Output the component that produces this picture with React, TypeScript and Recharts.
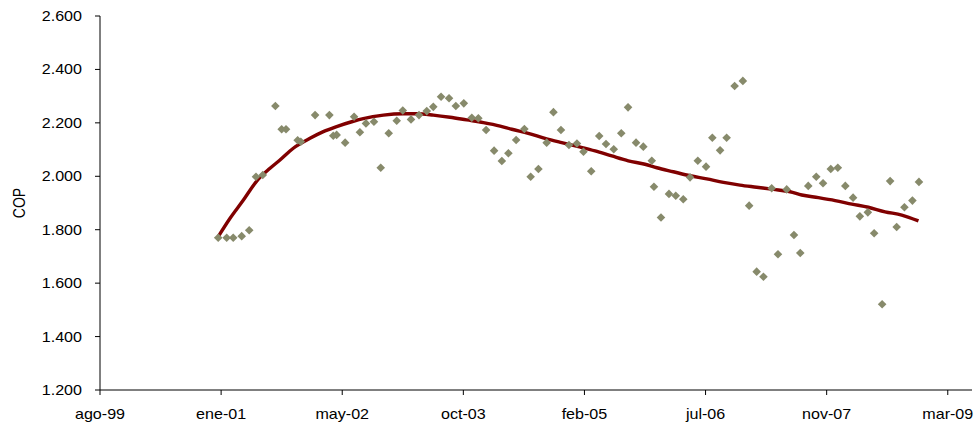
import React from 'react';
import { ComposedChart, Scatter, Line, XAxis, YAxis } from 'recharts';

// Dates are Excel serial day numbers (1 = 1900-01-01), values are COP per USD
const pointSerials = [
  36888, 36923, 36950, 36985, 37016, 37044, 37072, 37124, 37150, 37168,
  37216, 37229, 37288, 37347, 37363, 37377, 37412, 37449, 37473, 37498,
  37531, 37559, 37592, 37625, 37650, 37684, 37717, 37749, 37776, 37808,
  37841, 37869, 37902, 37935, 37962, 37994, 38027, 38059, 38086, 38118,
  38152, 38178, 38210, 38244, 38272, 38303, 38336, 38369, 38396, 38428,
  38461, 38489, 38521, 38552, 38580, 38613, 38643, 38678, 38687, 38716,
  38749, 38777, 38808, 38836, 38868, 38902, 38928, 38960, 38987, 39020,
  39054, 39080, 39111, 39139, 39173, 39199, 39235, 39265, 39291, 39324,
  39357, 39385, 39417, 39446, 39477, 39509, 39537, 39570, 39596, 39629,
  39662, 39689, 39721, 39754, 39781,
];

const copValues = [
  1770, 1770, 1770, 1776, 1798, 1998, 2005, 2263, 2176, 2176,
  2135, 2129, 2229, 2229, 2152, 2155, 2126, 2223, 2165, 2198,
  2204, 2032, 2161, 2208, 2246, 2213, 2229, 2244, 2260, 2298,
  2292, 2263, 2273, 2219, 2217, 2173, 2096, 2057, 2086, 2136,
  2177, 1998, 2027, 2126, 2240, 2173, 2117, 2123, 2092, 2019,
  2151, 2121, 2101, 2161, 2258, 2126, 2111, 2058, 1961, 1846,
  1934, 1927, 1914, 1996, 2058, 2036, 2144, 2097, 2144, 2338,
  2357, 1890, 1643, 1624, 1955, 1708, 1951, 1780, 1713, 1964,
  1998, 1974, 2027, 2032, 1964, 1920, 1850, 1865, 1787, 1521,
  1982, 1810, 1884, 1909, 1979,
];

const trendSerials = [
  36888, 36937, 36992, 37047, 37102, 37143, 37198, 37267, 37322, 37377,
  37446, 37487, 37570, 37652, 37708, 37776, 37845, 37914, 37983, 38052,
  38100, 38168, 38237, 38306, 38375, 38444, 38513, 38581, 38650, 38699,
  38767, 38836, 38905, 38974, 39042, 39111, 39180, 39249, 39297, 39366,
  39435, 39504, 39572, 39641, 39710, 39779,
];

const trendValues = [
  1774, 1843, 1911, 1982, 2030, 2061, 2105, 2142, 2167, 2186,
  2206, 2216, 2229, 2234, 2234, 2229, 2221, 2211, 2201, 2188,
  2176, 2161, 2142, 2126, 2111, 2095, 2076, 2058, 2045, 2032,
  2017, 2002, 1990, 1977, 1967, 1959, 1951, 1942, 1930, 1920,
  1909, 1896, 1884, 1867, 1855, 1833,
];

const xTicks = [36400, 36900, 37400, 37900, 38400, 38900, 39400, 39900];
const yTicks = [1200, 1400, 1600, 1800, 2000, 2200, 2400, 2600];
const monthNames = ['ene', 'feb', 'mar', 'abr', 'may', 'jun', 'jul', 'ago', 'sep', 'oct', 'nov', 'dic'];
const yAxisTitle = 'COP';

const points = pointSerials.map((x, i) => ({ x, v: copValues[i] }));
const trend = trendSerials.map((x, i) => ({ x, v: trendValues[i] }));

const FONT = '"Liberation Sans", Arial, sans-serif';
const STRETCH = 1.15;

function serialLabel(s: number): string {
  const d = new Date(Date.UTC(1899, 11, 30) + s * 86400000);
  return monthNames[d.getUTCMonth()] + '-' + String(d.getUTCFullYear() % 100).padStart(2, '0');
}

function numLabel(v: number): string {
  return (v / 1000).toFixed(3);
}

const XTick = (props: any) => {
  const { x, y, payload } = props;
  return (
    <g transform={`translate(${x},${y})`}>
      <text textAnchor="middle" dy="0.71em" transform={`scale(${STRETCH},1)`} fontSize={14} fontFamily={FONT} fill="#000">
        {serialLabel(payload.value)}
      </text>
    </g>
  );
};

const YTick = (props: any) => {
  const { x, y, payload } = props;
  return (
    <g transform={`translate(${x},${y})`}>
      <text textAnchor="end" dy="0.355em" transform={`scale(${STRETCH},1)`} fontSize={14} fontFamily={FONT} fill="#000">
        {numLabel(payload.value)}
      </text>
    </g>
  );
};

const Diamond = (props: any) => {
  const { cx, cy } = props;
  if (cx == null || cy == null) return null;
  const r = 4.3;
  return <path d={`M${cx},${cy - r}L${cx + r},${cy}L${cx},${cy + r}L${cx - r},${cy}Z`} fill="#878A6B" />;
};

const YTitle = (props: any) => {
  const vb = props.viewBox || { x: 0, y: 0, width: 100, height: 374 };
  const cx = vb.x + 19;
  const cy = vb.y + vb.height / 2;
  return (
    <g transform={`translate(${cx},${cy}) scale(${STRETCH},1) rotate(-90)`}>
      <text textAnchor="middle" dy="0.355em" fontSize={14} fontFamily={FONT} fill="#000">
        {yAxisTitle}
      </text>
    </g>
  );
};

export default function App() {
  return (
    <div style={{ position: 'absolute', left: 0, top: 0, width: 975, height: 429, background: '#fff' }}>
      <ComposedChart width={975} height={429} margin={{ top: 16, right: 3, bottom: 9, left: 0 }}>
        <XAxis
          type="number"
          dataKey="x"
          domain={[36400, 40000]}
          ticks={xTicks}
          allowDataOverflow
          height={30}
          tickSize={5}
          tickMargin={14}
          axisLine={{ stroke: '#000' }}
          tickLine={{ stroke: '#000' }}
          tick={<XTick />}
        />
        <YAxis
          type="number"
          dataKey="v"
          domain={[1200, 2600]}
          ticks={yTicks}
          allowDataOverflow
          width={100}
          tickSize={5}
          tickMargin={13}
          axisLine={{ stroke: '#000' }}
          tickLine={{ stroke: '#000' }}
          tick={<YTick />}
          label={{ value: yAxisTitle, content: <YTitle /> }}
        />
        <Scatter data={points} dataKey="v" shape={<Diamond />} isAnimationActive={false} />
        <Line
          data={trend}
          dataKey="v"
          type="monotone"
          stroke="#800000"
          strokeWidth={3.4}
          dot={false}
          activeDot={false}
          isAnimationActive={false}
        />
      </ComposedChart>
    </div>
  );
}
